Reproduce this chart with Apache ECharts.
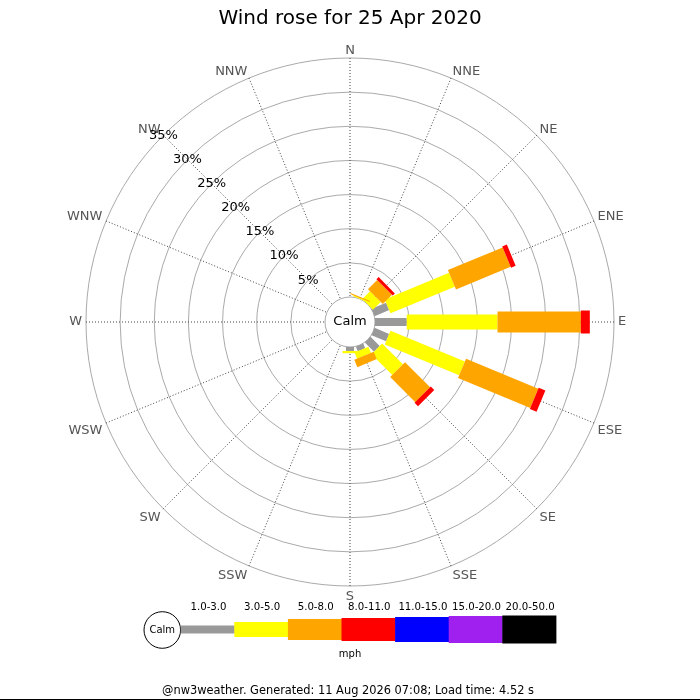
<!DOCTYPE html>
<html><head><meta charset="utf-8">
<script src="https://cdn.jsdelivr.net/npm/echarts@6/dist/echarts.min.js"></script>
<style>html,body{margin:0;padding:0;background:#fff}#c{width:700px;height:700px}</style>
</head><body><div id="c"></div>
<script>
// ---- data ----
const directions = ['N','NNE','NE','ENE','E','ESE','SE','SSE','S','SSW','SW','WSW','W','WNW','NW','NNW'];
const speedBands = ['1.0-3.0','3.0-5.0','5.0-8.0','8.0-11.0','11.0-15.0','15.0-20.0','20.0-50.0'];
const pctTicks = [0,5,10,15,20,25,30,35];
const band1 = [0,0,0,2.3,4.65,2.3,1.9,0.73,0.58,0,0,0,0,0,0,0];
const band2 = [0,0.15,1.6,10.2,13.29,11.8,4.3,0.96,0.33,0,0,0,0,0,0,0];
const band3 = [0,0.15,1.9,8.67,12.2,11.45,5.2,1.17,0,0,0,0,0,0,0,0];
const band4 = [0,0,0.45,0.73,1.32,1.06,0.7,0,0,0,0,0,0,0,0,0];
const band5 = [0,0,0,0,0,0,0,0,0,0,0,0,0,0,0,0];
const band6 = [0,0,0,0,0,0,0,0,0,0,0,0,0,0,0,0];
const band7 = [0,0,0,0,0,0,0,0,0,0,0,0,0,0,0,0];
const bands = [band1,band2,band3,band4,band5,band6,band7];

// ---- styles ----
const bandColors = ['#999999','#ffff00','#ffa500','#ff0000','#0000ff','#a020f0','#000000'];
const bandWidths = [8,15,21,23,25,27,28];
const upperLabels = ['WNW','NW','NNW','N','NNE','NE','ENE'];
const FONT = 'DejaVu Sans';

// cumulative stacking
const cum = directions.map(() => 0);
const series = bands.map((vals, b) => {
  const data = vals.map((v, i) => { const s = cum[i]; cum[i] += v; return [i, s, cum[i]]; });
  const w = bandWidths[b], col = bandColors[b];
  return {
    type: 'custom', coordinateSystem: 'polar', polarIndex: 0, name: speedBands[b],
    dimensions: ['dir','start','end'],
    encode: {angle: 0, radius: [1, 2]},
    data: data,
    renderItem: function (params, api) {
      const idx = api.value(0), b0 = api.value(1), b1 = api.value(2);
      if (!(b1 > b0)) return null;
      const pA = api.coord([b0, idx]);
      const pB = api.coord([b1, idx]);
      const cx = params.coordSys.cx, cy = params.coordSys.cy;
      let dx = pB[0] - cx, dy = pB[1] - cy;
      const L = Math.hypot(dx, dy); dx /= L; dy /= L;
      const nx = -dy * w / 2, ny = dx * w / 2;
      return {
        type: 'polygon',
        shape: {points: [[pA[0]+nx, pA[1]+ny], [pB[0]+nx, pB[1]+ny], [pB[0]-nx, pB[1]-ny], [pA[0]-nx, pA[1]-ny]]},
        style: {fill: col}
      };
    }
  };
});

// legend graphics
const legend = [];
const lx0 = 180.7, segW = 53.6, ly = 629.5;
legend.push({type:'circle', shape:{cx:162.3, cy:630, r:18.3}, style:{fill:'#fff', stroke:'#000', lineWidth:1}});
legend.push({type:'text', x:162.3, y:630, style:{text:'Calm', fontSize:10, fontFamily:FONT, fill:'#000', align:'center', verticalAlign:'middle'}});
speedBands.forEach((name, i) => {
  const h = bandWidths[i];
  legend.push({type:'rect', shape:{x: lx0 + segW*i, y: ly - h/2, width: segW + 0.5, height: h}, style:{fill: bandColors[i]}});
  legend.push({type:'text', x: lx0 + segW*(i+0.5) + 1, y: 607.5, style:{text:name, fontSize:10.2, fontFamily:FONT, fill:'#000', align:'center', verticalAlign:'middle'}});
});
legend.push({type:'text', x:350, y:654, style:{text:'mph', fontSize:10, fontFamily:FONT, fill:'#000', align:'center', verticalAlign:'middle'}});
legend.push({type:'text', x:348, y:691, style:{text:'@nw3weather. Generated: 11 Aug 2026 07:08; Load time: 4.52 s', fontSize:11.4, fontFamily:FONT, fill:'#000', align:'center', verticalAlign:'middle'}});
legend.push({type:'line', shape:{x1:0, y1:699.5, x2:700, y2:699.5}, style:{stroke:'#000', lineWidth:1}});
legend.push({type:'text', x:350, y:322, z:100, style:{text:'Calm', fontSize:13, fontFamily:FONT, fill:'#000', align:'center', verticalAlign:'middle'}});

const option = {
  animation: false,
  backgroundColor: '#fff',
  textStyle: {fontFamily: FONT},
  title: {text: 'Wind rose for 25 Apr 2020', left: 'center', top: 9, padding: 0,
    textStyle: {fontSize: 20, fontWeight: 'normal', color: '#000', fontFamily: FONT}},
  polar: [
    {center: [350, 322], radius: [25, 264]},
    {center: [350, 322], radius: [25, 264]}
  ],
  angleAxis: [
    {polarIndex: 0, type: 'category', data: directions, boundaryGap: false, startAngle: 90, clockwise: true,
      axisLine: {show: false}, axisTick: {show: false},
      axisLabel: {interval: 0, margin: 4, color: '#555', fontSize: 13, fontFamily: FONT,
        formatter: function (v) { return upperLabels.indexOf(v) >= 0 ? '{u|' + v + '}' : '{d|' + v + '}'; },
        rich: {
          u: {color: '#555', fontSize: 13, fontFamily: FONT, lineHeight: 6},
          d: {color: '#555', fontSize: 13, fontFamily: FONT}
        }},
      splitLine: {show: true, lineStyle: {color: '#444', width: 1, type: [1, 2]}}},
    {polarIndex: 1, type: 'value', min: 0, max: 360, startAngle: 135, show: false}
  ],
  radiusAxis: [
    {polarIndex: 0, type: 'value', min: pctTicks[0], max: pctTicks[pctTicks.length-1], interval: pctTicks[1]-pctTicks[0],
      axisLine: {show: false}, axisTick: {show: false}, axisLabel: {show: false}, splitLine: {show: false}},
    {polarIndex: 1, type: 'value', min: pctTicks[0], max: pctTicks[pctTicks.length-1], interval: pctTicks[1]-pctTicks[0],
      axisLine: {show: false}, axisTick: {show: false},
      splitLine: {show: true, lineStyle: {color: '#aaa', width: 1}},
      axisLabel: {show: true, showMinLabel: false, formatter: '{value}%', margin: 0, color: '#000', fontSize: 13,
        fontFamily: FONT, align: 'center', verticalAlign: 'middle', rotate: 0}}
  ],
  series: series,
  graphic: legend
};
const chart = echarts.init(document.getElementById('c'), null, {renderer: 'canvas'});
chart.setOption(option);
</script></body></html>
